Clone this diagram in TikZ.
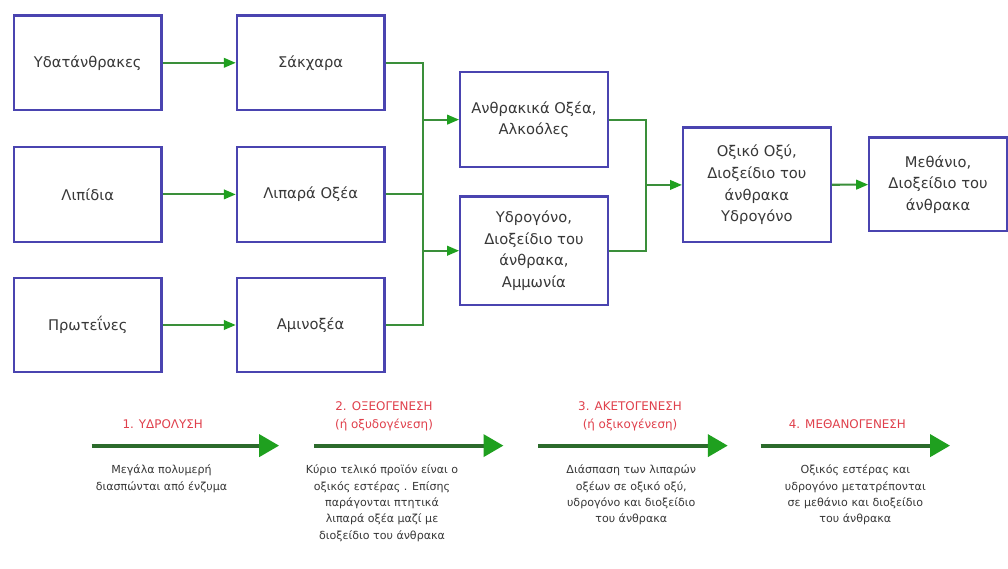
\documentclass[tikz,border=0pt]{standalone}
\usepackage{fontspec}
\setmainfont{DejaVu Sans}
\usetikzlibrary{arrows.meta,positioning,calc}
\definecolor{fig-frame}{HTML}{4A44B0}
\definecolor{fig-link}{HTML}{3A8F3A}
\definecolor{fig-head}{HTML}{1FA01F}
\definecolor{fig-stage}{HTML}{E0404C}
\definecolor{fig-ink}{HTML}{383838}

\begin{document}
\begin{tikzpicture}[
    font=\fontsize{10.5}{15.5}\selectfont,
    box/.style={draw=fig-frame, line width=1.6pt, fill=white, align=center, text=fig-ink, minimum width=3.7cm, minimum height=2.375cm, inner sep=2pt},
    link/.style={draw=fig-link, line width=1.5pt},
    feed/.style={link, -{Triangle[length=0.3cm,width=0.24cm,color=fig-head]}},
    phase/.style={draw=fig-link!75!black, line width=2.8pt, -{Triangle[length=0.5cm,width=0.55cm,color=fig-head]}},
    stage/.style={text=fig-stage, align=center, font=\fontsize{8.5}{13.5}\selectfont},
    note/.style={text=fig-ink, align=center, anchor=north, inner sep=0pt, font=\fontsize{7.9}{11.7}\selectfont},
]
\fill[white] (0,0) rectangle (25.2,14.25);

% inputs and hydrolysis products
\node[box] (carb) at (2.20,12.675) {Υδατάνθρακες};
\node[box] (lip)  at (2.20,9.375) {Λιπίδια};
\node[box] (prot) at (2.20,6.10) {Πρωτεΐνες};
\node[box] (sug)   at (7.79,12.675) {Σάκχαρα};
\node[box] (fat)   at (7.79,9.375) {Λιπαρά Οξέα};
\node[box] (amino) at (7.79,6.10) {Αμινοξέα};

% intermediates
\node[box] (acid) at (13.39,11.25) {Ανθρακικά Οξέα,\\Αλκοόλες};
\node[box, minimum height=2.725cm] (gas) at (13.39,7.9625) {Υδρογόνο,\\Διοξείδιο του\\άνθρακα,\\Αμμωνία};
\node[box, minimum height=2.875cm] (acet) at (18.98,9.6125) {Οξικό Οξύ,\\Διοξείδιο του\\άνθρακα\\Υδρογόνο};
\node[box, minimum width=3.45cm, minimum height=2.35cm] (meth) at (23.525,9.625) {Μεθάνιο,\\Διοξείδιο του\\άνθρακα};

\draw[feed] (carb) -- (sug);
\draw[feed] (lip) -- (fat);
\draw[feed] (prot) -- (amino);

\coordinate (lbus) at ($(sug.east)+(0.95,0)$);
\draw[link] (sug.east) -- (lbus) |- (amino.east);
\draw[link] (fat.east) -- (lbus |- fat.east);
\draw[feed] (lbus |- acid.west) -- (acid.west);
\draw[feed] (lbus |- gas.west) -- (gas.west);

\coordinate (rbus) at ($(acid.east)+(0.925,0)$);
\draw[link] (acid.east) -- (rbus) |- (gas.east);
\draw[feed] (rbus |- acet.west) -- (acet.west);
\draw[feed] (acet) -- (meth);

% the four stages
\coordinate (s1a) at (2.30,3.075);   \coordinate (s1b) at (7.00,3.075);
\coordinate (s2a) at (7.875,3.075);  \coordinate (s2b) at (12.625,3.075);
\coordinate (s3a) at (13.50,3.075);  \coordinate (s3b) at (18.25,3.075);
\coordinate (s4a) at (19.075,3.075); \coordinate (s4b) at (23.825,3.075);
\draw[phase] (s1a) -- (s1b);
\draw[phase] (s2a) -- (s2b);
\draw[phase] (s3a) -- (s3b);
\draw[phase] (s4a) -- (s4b);

\node[stage] (hyd) at (4.08,3.625) {1. ΥΔΡΟΛΥΣΗ};
\node[stage] (oxe) at (9.63,3.81) {2. ΟΞΕΟΓΕΝΕΣΗ\\(ή οξυδογένεση)};
\node[stage] (ket) at (15.80,3.81) {3. ΑΚΕΤΟΓΕΝΕΣΗ\\(ή οξικογένεση)};
\node[stage] (mog) at (21.25,3.625) {4. ΜΕΘΑΝΟΓΕΝΕΣΗ};

\node[note] (hydn) at (4.05,2.60) {Μεγάλα πολυμερή\\διασπώνται από ένζυμα};
\node[note] (oxen) at (9.58,2.60) {Κύριο τελικό προϊόν είναι ο\\οξικός εστέρας . Επίσης\\παράγονται πτητικά\\λιπαρά οξέα μαζί με\\διοξείδιο του άνθρακα};
\node[note] (ketn) at (15.83,2.60) {Διάσπαση των λιπαρών\\οξέων σε οξικό οξύ,\\υδρογόνο και διοξείδιο\\του άνθρακα};
\node[note] (mogn) at (21.45,2.60) {Οξικός εστέρας και\\υδρογόνο μετατρέπονται\\σε μεθάνιο και διοξείδιο\\του άνθρακα};
\end{tikzpicture}
\end{document}
